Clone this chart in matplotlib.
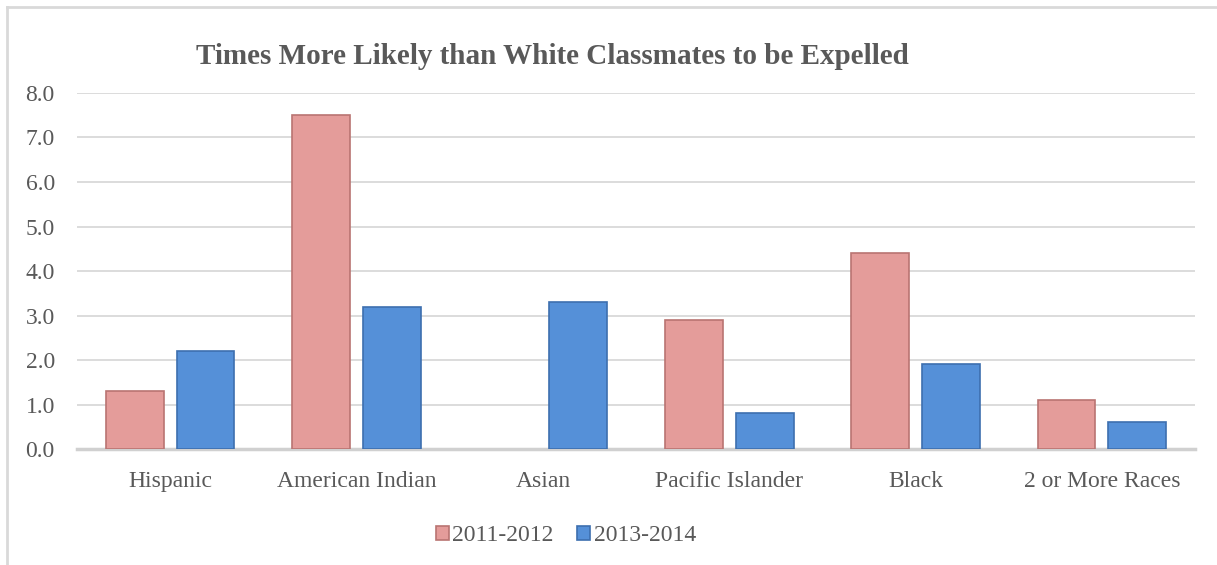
import numpy as np
import matplotlib.pyplot as plt
from matplotlib.lines import Line2D

categories = ["Hispanic", "American Indian", "Asian", "Pacific Islander", "Black", "2 or More Races"]
vals_2011 = [1.3, 7.5, np.nan, 2.9, 4.4, 1.1]
vals_2013 = [2.2, 3.2, 3.3, 0.8, 1.9, 0.6]
series_names = ["2011-2012", "2013-2014"]
yticks = [0, 1, 2, 3, 4, 5, 6, 7, 8]

pink = "#E49C9A"
pink_edge = "#B97472"
blue = "#5590D8"
blue_edge = "#3D6FAF"
text_col = "#595959"
font = "Liberation Serif"

fig = plt.figure(figsize=(12.17, 5.65), dpi=100)
ax = fig.add_axes([0.0633, 0.2053, 0.9187, 0.6301])

x = np.arange(len(categories))
w = 0.31
off = 0.19

ax.bar(x - off, vals_2011, w, color=pink, edgecolor=pink_edge, linewidth=1.2,
       label=series_names[0], zorder=3)
ax.bar(x + off, vals_2013, w, color=blue, edgecolor=blue_edge, linewidth=1.2,
       label=series_names[1], zorder=3)

ax.set_xlim(-0.5, len(categories) - 0.5)
ax.set_ylim(0, 8)
ax.set_yticks(yticks)
ax.set_yticklabels([f"{v:.1f}" for v in yticks])
ax.set_xticks(x)
ax.set_xticklabels(categories)
ax.tick_params(axis="both", length=0, labelsize=17, labelcolor=text_col)
ax.tick_params(axis="y", pad=16)
ax.tick_params(axis="x", pad=16)
for lab in ax.get_xticklabels() + ax.get_yticklabels():
    lab.set_fontfamily(font)

ax.grid(axis="y", color="#D9D9D9", linewidth=1.3, zorder=0)
for s in ["top", "right", "left"]:
    ax.spines[s].set_visible(False)
ax.spines["bottom"].set_color("#D0D0D0")
ax.spines["bottom"].set_linewidth(2.5)

fig.text(0.454, 0.900, "Times More Likely than White Classmates to be Expelled",
         ha="center", va="center", fontsize=21, fontweight="bold",
         color=text_col, family=font)

leg = fig.legend(loc="center", bbox_to_anchor=(0.465, 0.052), ncol=2, frameon=False,
                 prop={"family": font, "size": 17}, handlelength=0.55, handleheight=0.55,
                 handletextpad=0.15, columnspacing=1.0)
for t in leg.get_texts():
    t.set_color(text_col)

# outer chart border (top and left visible)
fig.add_artist(Line2D([7 / 1217, 1], [1 - 7 / 565, 1 - 7 / 565], color="#D9D9D9",
                      linewidth=2, transform=fig.transFigure))
fig.add_artist(Line2D([7 / 1217, 7 / 1217], [0, 1 - 7 / 565], color="#D9D9D9",
                      linewidth=2, transform=fig.transFigure))

fig.savefig("out.png", dpi=100)
